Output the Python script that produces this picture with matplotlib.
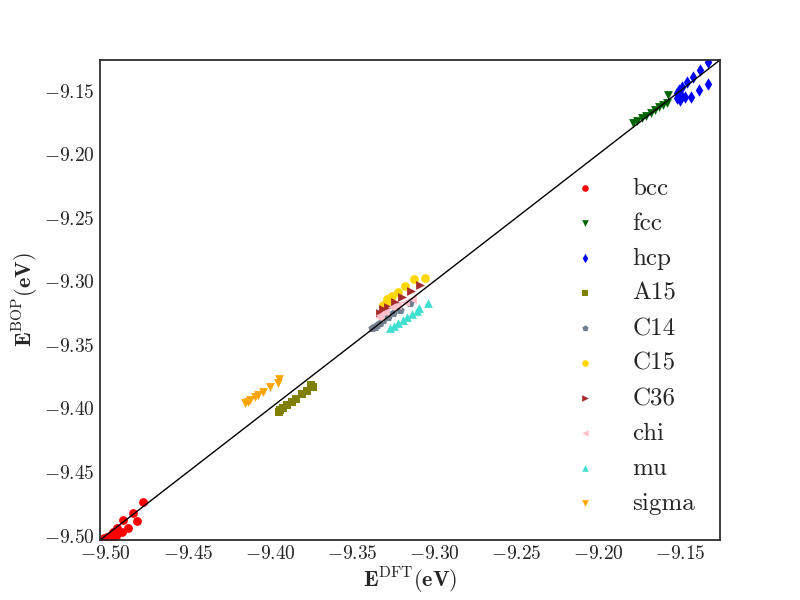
import matplotlib
matplotlib.use('Agg')
import matplotlib.pyplot as plt
import numpy as np

plt.style.use('seaborn-v0_8-white')
plt.rcParams['font.family'] = ['cmr10', 'DejaVu Serif']
plt.rcParams['mathtext.fontset'] = 'cm'
plt.rcParams['axes.formatter.use_mathtext'] = True

# DFT energy (x) vs BOP energy (y), eV/atom
bcc_x = [-9.4775, -9.4836, -9.4812, -9.4897, -9.4866, -9.4903, -9.4933, -9.4958, -9.4976, -9.4994, -9.5013, -9.4964, -9.4940]
bcc_y = [-9.4740, -9.4819, -9.4889, -9.4881, -9.4937, -9.4976, -9.4937, -9.4976, -9.5000, -9.5015, -9.5023, -9.5015, -9.5000]

fcc_x = [-9.1791, -9.1767, -9.1736, -9.1712, -9.1681, -9.1657, -9.1633, -9.1608, -9.1584, -9.1578]
fcc_y = [-9.1757, -9.1741, -9.1718, -9.1702, -9.1678, -9.1655, -9.1631, -9.1615, -9.1600, -9.1537]

hcp_x = [-9.1334, -9.1383, -9.1426, -9.1462, -9.1493, -9.1511, -9.1523, -9.1523, -9.1505, -9.1474, -9.1438, -9.1389, -9.1334, -9.1499]
hcp_y = [-9.1277, -9.1340, -9.1395, -9.1434, -9.1474, -9.1497, -9.1521, -9.1560, -9.1576, -9.1552, -9.1552, -9.1497, -9.1450, -9.1537]

a15_x = [-9.3947, -9.3923, -9.3898, -9.3868, -9.3843, -9.3807, -9.3776, -9.3740, -9.3941, -9.3752]
a15_y = [-9.4032, -9.4000, -9.3976, -9.3953, -9.3929, -9.3890, -9.3866, -9.3835, -9.4016, -9.3819]

c14_x = [-9.3381, -9.3350, -9.3314, -9.3283, -9.3253, -9.3210, -9.3149, -9.3362, -9.3332]
c14_y = [-9.3370, -9.3347, -9.3307, -9.3284, -9.3252, -9.3229, -9.3174, -9.3363, -9.3331]

c15_x = [-9.3058, -9.3125, -9.3180, -9.3222, -9.3259, -9.3289, -9.3289, -9.3314]
c15_y = [-9.2977, -9.2985, -9.3040, -9.3087, -9.3119, -9.3142, -9.3166, -9.3189]

c36_x = [-9.3088, -9.3143, -9.3198, -9.3240, -9.3283, -9.3314, -9.3332]
c36_y = [-9.3032, -9.3079, -9.3126, -9.3166, -9.3205, -9.3221, -9.3252]

chi_x = [-9.3137, -9.3180, -9.3228, -9.3259, -9.3301, -9.3332, -9.3338]
chi_y = [-9.3142, -9.3166, -9.3189, -9.3205, -9.3245, -9.3268, -9.3284]

mu_x = [-9.3039, -9.3094, -9.3106, -9.3137, -9.3167, -9.3192, -9.3222, -9.3247, -9.3271]
mu_y = [-9.3174, -9.3213, -9.3237, -9.3260, -9.3284, -9.3307, -9.3331, -9.3355, -9.3370]

sigma_x = [-9.4154, -9.4123, -9.4093, -9.4075, -9.4044, -9.4002, -9.3953, -9.3947, -9.4136]
sigma_y = [-9.3961, -9.3937, -9.3913, -9.3898, -9.3874, -9.3835, -9.3803, -9.3772, -9.3953]

lims = [-9.5035, -9.1260]

series = [
    ('bcc', bcc_x, bcc_y, 'o', 'red'),
    ('fcc', fcc_x, fcc_y, 'v', 'darkgreen'),
    ('hcp', hcp_x, hcp_y, 'd', 'blue'),
    ('A15', a15_x, a15_y, 's', 'olive'),
    ('C14', c14_x, c14_y, 'p', 'slategray'),
    ('C15', c15_x, c15_y, 'o', 'gold'),
    ('C36', c36_x, c36_y, '>', 'brown'),
    ('chi', chi_x, chi_y, '<', 'pink'),
    ('mu', mu_x, mu_y, '^', 'turquoise'),
    ('sigma', sigma_x, sigma_y, 'v', 'orange'),
]

fig, ax = plt.subplots(figsize=(8, 6), dpi=100)
fig.subplots_adjust(left=0.125, right=0.9, top=0.9, bottom=0.1)

for name, xs, ys, mk, col in series:
    ax.scatter(xs, ys, marker=mk, color=col, s=40, label=name, linewidths=0)

ax.plot(lims, lims, 'k-', lw=1)
ax.set_xlim(lims)
ax.set_ylim(lims)
ax.set_xticks(np.arange(-9.50, -9.14, 0.05))
ax.set_yticks(np.arange(-9.50, -9.14, 0.05))
ax.tick_params(labelsize=14)
for s in ax.spines.values():
    s.set_color('.15')
    s.set_linewidth(1.25)

ax.set_xlabel(r'$\mathbf{E}^{\rm DFT}\mathbf{(eV)}$', fontsize=16, labelpad=2)
ax.set_ylabel(r'$\mathbf{E}^{\rm BOP}\mathbf{(eV)}$', fontsize=16, labelpad=2)
ax.legend(loc='lower right', frameon=False, fontsize=18, markerscale=0.75,
          handletextpad=0.9, borderaxespad=0.6)

plt.savefig('out.png')
